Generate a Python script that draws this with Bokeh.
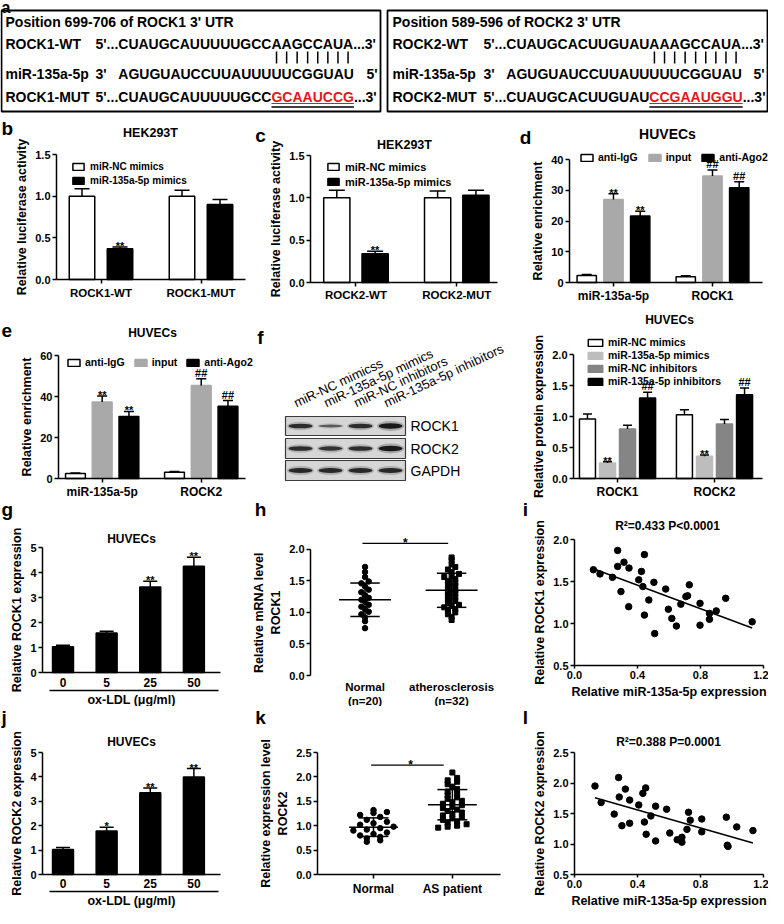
import numpy as np
from bokeh.plotting import figure
from bokeh.layouts import row, column
from bokeh.models import (Range1d, LabelSet, ColumnDataSource, Legend,
                          LegendItem, LinearAxis, FixedTicker, NumeralTickFormatter)
from bokeh.embed import file_html
from bokeh.resources import INLINE
from bokeh.core.properties import value

FONT = "Liberation Sans"
RED = "#e8141c"
GRAY_IN = "#a9a9a9"
F_LGRAY = "#bdbdbd"
F_GRAY = "#858585"

# ---------------- data ----------------
a_titles = ["Position 699-706 of ROCK1 3' UTR", "Position 589-596 of ROCK2 3' UTR"]
a_wt_names = ["ROCK1-WT", "ROCK2-WT"]
a_mut_names = ["ROCK1-MUT", "ROCK2-MUT"]
a_mir_name = "miR-135a-5p"
a_wt_seq = ["CUAUGCAUUUUUGCCAAGCCAUA", "CUAUGCACUUGUAUAAAGCCAUA"]
a_mut_keep = ["CUAUGCAUUUUUGCC", "CUAUGCACUUGUAU"]
a_mut_red = ["GCAAUCCG", "CCGAAUGGU"]
a_mir_seq = "AGUGUAUCCUUAUUUUUCGGUAU"
a_seed_len = [8, 9]

b_groups = ["ROCK1-WT", "ROCK1-MUT"]
b_series = ["miR-NC mimics", "miR-135a-5p mimics"]
b_nc = [1.00, 1.00]
b_nc_err = [0.09, 0.07]
b_mim = [0.37, 0.90]
b_mim_err = [0.02, 0.06]
b_mim_sig = ["**", ""]

c_groups = ["ROCK2-WT", "ROCK2-MUT"]
c_nc = [1.00, 1.00]
c_nc_err = [0.09, 0.08]
c_mim = [0.34, 1.03]
c_mim_err = [0.03, 0.06]
c_mim_sig = ["**", ""]

rip_series = ["anti-IgG", "input", "anti-Ago2"]
d_groups = ["miR-135a-5p", "ROCK1"]
d_igg = [2.3, 1.9]
d_igg_err = [0.3, 0.3]
d_input = [27.0, 34.6]
d_input_err = [1.9, 2.0]
d_ago2 = [21.6, 30.8]
d_ago2_err = [1.6, 2.0]
d_input_sig = ["**", "##"]
d_ago2_sig = ["**", "##"]

e_groups = ["miR-135a-5p", "ROCK2"]
e_igg = [2.4, 3.1]
e_igg_err = [0.3, 0.3]
e_input = [37.3, 45.4]
e_input_err = [2.9, 3.3]
e_ago2 = [30.2, 35.2]
e_ago2_err = [2.5, 2.8]
e_input_sig = ["**", "##"]
e_ago2_sig = ["**", "##"]

f_groups = ["ROCK1", "ROCK2"]
f_series = ["miR-NC mimics", "miR-135a-5p mimics", "miR-NC inhibitors", "miR-135a-5p inhibitors"]
f_nc_mim = [0.96, 1.03]
f_nc_mim_err = [0.08, 0.08]
f_mim = [0.25, 0.36]
f_mim_err = [0.02, 0.02]
f_nc_inh = [0.80, 0.88]
f_nc_inh_err = [0.06, 0.07]
f_inh = [1.30, 1.35]
f_inh_err = [0.09, 0.11]
f_mim_sig = ["**", "**"]
f_inh_sig = ["##", "##"]

blot_lanes = ["miR-NC mimicss", "miR-135a-5p mimics", "miR-NC inhibitors", "miR-135a-5p inhibitors"]
blot_proteins = ["ROCK1", "ROCK2", "GAPDH"]
blot_rock1 = [0.80, 0.40, 0.80, 1.00]
blot_rock2 = [0.80, 0.75, 0.80, 1.00]
blot_gapdh = [0.85, 0.85, 0.85, 0.85]

g_doses = ["0", "5", "25", "50"]
g_vals = [1.03, 1.58, 3.42, 4.25]
g_err = [0.06, 0.07, 0.23, 0.36]
g_sig = ["", "", "**", "**"]

j_vals = [1.02, 1.78, 3.35, 4.00]
j_err = [0.09, 0.16, 0.19, 0.34]
j_sig = ["", "*", "**", "**"]

h_groups = ["Normal", "atherosclerosis"]
h_normal = [1.72, 1.64, 1.56, 1.49, 1.46, 1.41, 1.36, 1.32, 1.27, 1.23,
            1.20, 1.17, 1.12, 1.09, 1.05, 1.01, 0.97, 0.92, 0.86, 0.75]
h_athero = [1.87, 1.83, 1.76, 1.72, 1.68, 1.64, 1.61, 1.58, 1.56, 1.53, 1.50,
            1.47, 1.45, 1.42, 1.38, 1.35, 1.32, 1.30, 1.27, 1.24, 1.21, 1.18,
            1.15, 1.12, 1.10, 1.08, 1.05, 1.03, 1.00, 0.97, 0.93, 0.88]
h_mean = [1.20, 1.35]
h_sd = [0.265, 0.27]

k_groups = ["Normal", "AS patient"]
k_normal = [1.32, 1.28, 1.26, 1.22, 1.18, 1.12, 1.08, 1.05, 1.02, 0.98,
            0.95, 0.92, 0.90, 0.86, 0.83, 0.80, 0.77, 0.74, 0.70, 0.67]
k_as = [2.09, 1.98, 1.93, 1.90, 1.85, 1.80, 1.75, 1.70, 1.66, 1.62, 1.58,
        1.55, 1.51, 1.48, 1.45, 1.42, 1.39, 1.36, 1.33, 1.30, 1.27, 1.24,
        1.21, 1.18, 1.15, 1.12, 1.09, 1.06, 1.03, 1.00, 0.98, 0.96]
k_mean = [0.97, 1.43]
k_sd = [0.19, 0.31]

i_x = [0.120, 0.162, 0.241, 0.274, 0.274, 0.295, 0.314, 0.346, 0.344, 0.408, 0.425,
       0.434, 0.444, 0.444, 0.472, 0.504, 0.509, 0.579, 0.596, 0.618, 0.647, 0.675,
       0.707, 0.718, 0.729, 0.797, 0.797, 0.857, 0.857, 0.900, 0.960, 1.128]
i_y = [1.64, 1.59, 1.55, 1.87, 1.68, 1.38, 1.73, 1.66, 1.20, 1.52, 1.62,
       1.44, 1.82, 1.10, 1.28, 1.49, 0.88, 1.41, 1.17, 1.06, 0.97, 1.23,
       1.32, 1.33, 1.46, 1.24, 0.98, 1.12, 1.05, 1.15, 1.30, 1.02]
i_stat = "R\u00b2=0.433 P<0.0001"

l_x = [0.130, 0.169, 0.252, 0.280, 0.284, 0.301, 0.323, 0.350, 0.350, 0.408, 0.434,
       0.444, 0.452, 0.455, 0.485, 0.515, 0.515, 0.585, 0.605, 0.652, 0.682, 0.682,
       0.714, 0.724, 0.735, 0.808, 0.808, 0.964, 1.030, 0.970, 0.975, 1.133]
l_y = [1.95, 1.68, 1.49, 2.09, 1.77, 1.30, 1.90, 1.72, 1.34, 1.64, 1.83,
       1.36, 1.92, 1.16, 1.46, 1.62, 1.05, 1.57, 1.18, 1.07, 1.11, 1.03,
       1.24, 1.52, 1.39, 1.41, 1.20, 1.44, 1.28, 0.98, 0.96, 1.22]
l_stat = "R\u00b2=0.388 P=0.0001"


# ---------------- helpers ----------------
def style_axis(ax, size="11px"):
    ax.axis_line_color = "black"
    ax.axis_line_width = 1.5
    ax.major_tick_line_color = "black"
    ax.major_tick_line_width = 1.5
    ax.major_tick_in = 0
    ax.major_tick_out = 4
    ax.minor_tick_line_color = None
    ax.major_label_text_font = FONT
    ax.major_label_text_font_style = "bold"
    ax.major_label_text_font_size = size
    ax.major_label_text_color = "black"
    ax.major_label_standoff = 2
    ax.axis_label_text_font = FONT
    ax.axis_label_text_font_style = "bold"
    ax.axis_label_text_font_size = "12.5px"
    ax.axis_label_text_color = "black"
    ax.axis_label_standoff = 3


def mkpanel(rect, box=None, xb=None, yb=None):
    """Figure whose frame is the whole rect; the plot box sits at 'box' (screen px)
    with data extents xb, yb; axes are fixed on the box edges."""
    sx0, sy0, sx1, sy1 = rect
    if box is None:
        xr, yr = (sx0, sx1), (sy1, sy0)
        X = lambda s: s
        Y = lambda s: s
        kw = dict(x_axis_location=None, y_axis_location=None)
    else:
        bx0, by0, bx1, by1 = box
        kx = (xb[1] - xb[0]) / float(bx1 - bx0)
        ky = (yb[1] - yb[0]) / float(by1 - by0)
        x0 = xb[0] - (bx0 - sx0) * kx
        x1 = xb[1] + (sx1 - bx1) * kx
        ybot = yb[0] - (sy1 - by1) * ky
        ytop = yb[1] + (by0 - sy0) * ky
        xr, yr = (x0, x1), (ybot, ytop)
        X = lambda s, x0=x0, kx=kx, sx0=sx0: x0 + (s - sx0) * kx
        Y = lambda s, ytop=ytop, ky=ky, sy0=sy0: ytop - (s - sy0) * ky
        kw = {}
    p = figure(width=sx1 - sx0, height=sy1 - sy0,
               x_range=Range1d(*xr), y_range=Range1d(*yr),
               output_backend="svg", toolbar_location=None, min_border=0, **kw)
    p.outline_line_color = None
    p.grid.visible = False
    p.background_fill_color = "white"
    p.border_fill_color = "white"
    if box is not None:
        p.xaxis.fixed_location = yb[0]
        p.xaxis.bounds = tuple(xb)
        p.yaxis.fixed_location = xb[0]
        p.yaxis.bounds = tuple(yb)
        style_axis(p.xaxis[0])
        style_axis(p.yaxis[0])
    return p, X, Y


def yaxis_setup(p, ticks, fmt, label, bounds=None):
    ax = p.yaxis[0]
    ax.ticker = FixedTicker(ticks=ticks)
    ax.formatter = NumeralTickFormatter(format=fmt)
    ax.axis_label = label
    if bounds is not None:
        ax.bounds = bounds


def xnum_setup(p, ticks, fmt, label):
    ax = p.xaxis[0]
    ax.ticker = FixedTicker(ticks=ticks)
    ax.formatter = NumeralTickFormatter(format=fmt)
    ax.axis_label = label
    ax.major_tick_out = 3
    ax.major_label_standoff = 2
    ax.axis_label_standoff = 3


def xcat_setup(p, ticks, labels, size="12px", ticks_on=True, line=True, standoff=3):
    ax = p.xaxis[0]
    ax.ticker = FixedTicker(ticks=ticks)
    ax.major_label_overrides = {t: l for t, l in zip(ticks, labels)}
    ax.major_label_text_font_size = size
    ax.major_label_standoff = standoff
    if not ticks_on:
        ax.major_tick_out = 0
    if not line:
        ax.axis_line_color = None
        ax.major_tick_line_color = None
    return ax


def bars(p, base, off, w, vals, errs, fill, cap, sig=None, sig_size="11px", line="black"):
    x = np.asarray(base, float) + off
    v = np.asarray(vals, float)
    r = p.vbar(x=x, top=v, width=w, bottom=0, fill_color=fill,
               line_color=line, line_width=1.5)
    top = v + np.asarray(errs, float)
    p.segment(x0=x, y0=v, x1=x, y1=top, line_color="black", line_width=1.5)
    p.scatter(x=x, y=top, marker="dash", size=cap, line_color="black", line_width=1.5)
    if sig:
        yo = [(-3 if "*" in s else 2) for s in sig]
        src = ColumnDataSource(dict(x=list(x), y=list(top), t=list(sig), yo=yo))
        p.add_layout(LabelSet(x="x", y="y", text="t", y_offset="yo", source=src,
                              text_align="center", text_baseline="alphabetic",
                              text_font=value(FONT), text_font_size=sig_size,
                              text_font_style="bold", text_color="black"))
    return r


def add_legend(p, rect, items, left, top, size, orient="vertical", gw=14, gh=9, lh=14,
               spacing=0, standoff=5):
    # left/top: screen position of the legend's top-left corner
    sx0, sy0, sx1, sy1 = rect
    nrow = len(items) if orient == "vertical" else 1
    height = nrow * lh + (nrow - 1) * spacing
    vx = left - sx0 + 6
    vy = sy1 - (top + height) - 7
    lg = Legend(items=[LegendItem(label=value(t), renderers=[r]) for t, r in items],
                location=(int(round(vx)), int(round(vy))), orientation=orient,
                padding=0, margin=0, spacing=int(spacing), label_standoff=int(standoff),
                glyph_width=int(gw), glyph_height=int(gh), label_height=int(lh),
                label_text_font=FONT, label_text_font_style="bold",
                label_text_font_size=size, label_text_color="black",
                border_line_color=None, background_fill_alpha=0)
    p.add_layout(lg)


def txt(p, x, y, t, size, style="bold", align="center", baseline="middle",
        color="black", angle=0.0, font=FONT):
    p.text(x=[x], y=[y], text=[t], text_font=value(font), text_font_size=size,
           text_font_style=style, text_align=align, text_baseline=baseline,
           text_color=color, angle=angle)


def swarm(vals, center, binw, step):
    v = np.asarray(vals, float)
    xs = np.zeros_like(v)
    bins = np.floor(v / binw)
    for b in np.unique(bins):
        idx = np.where(bins == b)[0]
        idx = idx[np.argsort(v[idx])]
        m = len(idx)
        xs[idx] = center + (np.arange(m) - (m - 1) / 2.0) * step
    return xs


# Arial/Liberation advance widths (1/1000 em), bold and regular, for the
# characters of the panel-a and blot labels: letters are placed one by one.
W_BOLD = {' ': 278, "'": 238, '-': 333, '.': 278, 'A': 722, 'C': 722, 'G': 778,
          'K': 722, 'M': 833, 'O': 778, 'P': 667, 'R': 722, 'T': 611, 'U': 722,
          'W': 944, 'a': 556, 'f': 333, 'i': 278, 'm': 889, 'n': 611, 'o': 611,
          'p': 611, 's': 556, 't': 333}
W_REG = {'A': 667, 'C': 722, 'D': 722, 'G': 778, 'H': 722, 'K': 667, 'O': 778,
         'P': 667, 'R': 722}
for _d in "0123456789":
    W_BOLD[_d] = 556
    W_REG[_d] = 556


def tw(s, size=14, table=W_BOLD):
    return sum(table[c] for c in s) * size / 1000.0


def ptext(p, x, y, s, size=14, color="black", align="left", bold=True):
    table = W_BOLD if bold else W_REG
    if align == "right":
        x = x - tw(s, size, table)
    xs = [x + tw(s[:k], size, table) + table[s[k]] * size / 2000.0 for k in range(len(s))]
    p.text(x=xs, y=[y] * len(s), text=list(s), text_font=value(FONT),
           text_font_style="bold" if bold else "normal", text_font_size="%gpx" % size,
           text_color=color, text_align="center", text_baseline="middle")
    return xs


# ---------------- panel a ----------------
pa, _, _ = mkpanel((8, 8, 776, 122))
txt(pa, 9, 15, "a", "16px", align="left", baseline="alphabetic")
box_x = [(9, 388), (395, 775)]
lab_x = [13, 400]
seq_x = [103, 491]
Y_HEAD, Y_WT, Y_MIR, Y_MUT = 29, 51.5, 81.5, 104.5
for i in range(2):
    bx0, bx1 = box_x[i]
    pa.quad(left=bx0, right=bx1, top=18, bottom=119, fill_color=None,
            line_color="black", line_width=1.8)
    ptext(pa, lab_x[i], Y_HEAD, a_titles[i])
    ptext(pa, lab_x[i], Y_WT, a_wt_names[i])
    ptext(pa, lab_x[i], Y_MIR, a_mir_name)
    ptext(pa, lab_x[i], Y_MUT, a_mut_names[i])
    sx = seq_x[i]
    s0 = sx + tw("5'...")
    wt = a_wt_seq[i]
    ptext(pa, sx, Y_WT, "5'...")
    wxs = ptext(pa, s0, Y_WT, wt)
    ptext(pa, s0 + tw(wt), Y_WT, "...3'")
    ptext(pa, sx, Y_MIR, "3'")
    ptext(pa, s0, Y_MIR, a_mir_seq)
    ptext(pa, bx1 - 3, Y_MIR, "5'", align="right")
    keep = a_mut_keep[i]
    red = a_mut_red[i]
    ptext(pa, sx, Y_MUT, "5'...")
    ptext(pa, s0, Y_MUT, keep)
    rx = s0 + tw(keep)
    ptext(pa, rx, Y_MUT, red, color=RED)
    ptext(pa, rx + tw(red), Y_MUT, "...3'")
    pa.segment(x0=[rx], y0=[Y_MUT + 6.5], x1=[rx + tw(red)], y1=[Y_MUT + 6.5],
               line_color=RED, line_width=1.2)
    pa.segment(x0=[rx], y0=[Y_MUT + 10], x1=[rx + tw(red)], y1=[Y_MUT + 10],
               line_color="black", line_width=1.5)
    n = a_seed_len[i]
    cx = wxs[len(wt) - n:]
    pa.segment(x0=cx, y0=[59] * n, x1=cx, y1=[71] * n, line_color="black", line_width=1.5)

# ---------------- row B ----------------
cats2 = [1, 2]

RB = (8, 122, 262, 312)
pb, X, Y = mkpanel(RB, (64, 162, 253, 287), (0.555, 2.445), (0, 1.5))
yaxis_setup(pb, [0, 0.5, 1.0, 1.5], "0.0", "Relative luciferase activity")
xcat_setup(pb, cats2, b_groups, "11.5px", standoff=3)
rb1 = bars(pb, cats2, -0.19, 0.255, b_nc, b_nc_err, "white", 15)
rb2 = bars(pb, cats2, 0.19, 0.255, b_mim, b_mim_err, "black", 15, b_mim_sig)
add_legend(pb, RB, [(b_series[0], rb1), (b_series[1], rb2)], 73, 160, "10px", lh=14)
txt(pb, X(158), Y(140), "HEK293T", "12.5px")
txt(pb, X(9), Y(136), "b", "19px", align="left")

RC = (262, 122, 520, 312)
pc, X, Y = mkpanel(RC, (318, 163, 505, 290), (0.549, 2.404), (0, 1.5))
yaxis_setup(pc, [0, 0.5, 1.0, 1.5], "0.0", "Relative luciferase activity")
xcat_setup(pc, cats2, c_groups, "11.5px", standoff=2)
rc1 = bars(pc, cats2, -0.19, 0.26, c_nc, c_nc_err, "white", 16)
rc2 = bars(pc, cats2, 0.19, 0.26, c_mim, c_mim_err, "black", 16, c_mim_sig)
add_legend(pc, RC, [(b_series[0], rc1), (b_series[1], rc2)], 328, 160, "11px", lh=15)
txt(pc, X(412), Y(152), "HEK293T", "12.5px")
txt(pc, X(268), Y(143), "c", "19px")

RD = (520, 122, 776, 312)
pd, X, Y = mkpanel(RD, (577, 167, 770, 290), (0.556, 2.505), (0, 40))
yaxis_setup(pd, [0, 10, 20, 30, 40], "0", "Relative enrichment")
xcat_setup(pd, cats2, d_groups, "12px", standoff=2)
rd1 = bars(pd, cats2, -0.27, 0.195, d_igg, d_igg_err, "white", 10)
rd2 = bars(pd, cats2, 0.0, 0.195, d_input, d_input_err, GRAY_IN, 10, d_input_sig, line=GRAY_IN)
rd3 = bars(pd, cats2, 0.27, 0.195, d_ago2, d_ago2_err, "black", 10, d_ago2_sig)
add_legend(pd, RD, [(rip_series[0], rd1), (rip_series[1], rd2), (rip_series[2], rd3)],
           581, 152, "10.5px", orient="horizontal", gw=15, lh=12, spacing=9, standoff=4)
txt(pd, X(675), Y(141), "HUVECs", "14px")
txt(pd, X(533), Y(145), "d", "19px")

# ---------------- row C ----------------
RE = (8, 312, 262, 506)
pe, X, Y = mkpanel(RE, (66, 363, 253, 486), (0.559, 2.447), (0, 60))
yaxis_setup(pe, [0, 20, 40, 60], "0", "Relative enrichment")
xcat_setup(pe, cats2, e_groups, "12px", standoff=2)
re1 = bars(pe, cats2, -0.27, 0.2, e_igg, e_igg_err, "white", 10)
re2 = bars(pe, cats2, 0.0, 0.2, e_input, e_input_err, GRAY_IN, 10, e_input_sig, line=GRAY_IN)
re3 = bars(pe, cats2, 0.27, 0.2, e_ago2, e_ago2_err, "black", 10, e_ago2_sig)
add_legend(pe, RE, [(rip_series[0], re1), (rip_series[1], re2), (rip_series[2], re3)],
           68, 357, "10.5px", orient="horizontal", gw=15, lh=12, spacing=8, standoff=4)
txt(pe, X(160), Y(340), "HUVECs", "12px")
txt(pe, X(9), Y(338), "e", "19px", align="left")

# blot (panel f, left)
pf, X, Y = mkpanel((262, 312, 528, 506))
BX0, BX1 = 293, 413
row_y = [(424, 443), (446, 466), (468, 488)]
lane_w = (BX1 - BX0) / 4.0
lane_cx = BX0 + lane_w * (np.arange(4) + 0.5)
for r, (y0, y1) in enumerate(row_y):
    ints = [blot_rock1, blot_rock2, blot_gapdh][r]
    pf.quad(left=BX0, right=BX1, top=y0, bottom=y1, fill_color="#d6d6d6",
            line_color="#3a3a3a", line_width=1.2)
    cy = (y0 + y1) / 2.0
    pf.ellipse(x=lane_cx, y=[cy] * 4, width=lane_w * 0.9,
               height=[3 + 7 * v for v in ints], fill_color="#202020",
               fill_alpha=[0.25 * v for v in ints], line_color=None)
    pf.ellipse(x=lane_cx, y=[cy] * 4, width=lane_w * 0.8,
               height=[1.5 + 4 * v for v in ints], fill_color="#111111",
               fill_alpha=[0.35 + 0.6 * v for v in ints], line_color=None)
    ptext(pf, BX1 + 5, cy, blot_proteins[r], size=14, bold=False)
pf.text(x=list(lane_cx - 6), y=[411] * 4, text=blot_lanes, angle=0.44,
        text_font=value(FONT), text_font_size="13px", text_align="left",
        text_baseline="alphabetic", text_color="black")
txt(pf, 268, 345, "f", "19px")

RF = (528, 312, 776, 506)
pfb, X, Y = mkpanel(RF, (581, 362, 770, 486), (0.546, 2.495), (0, 2.0))
yaxis_setup(pfb, [0, 0.5, 1.0, 1.5, 2.0], "0.0", "Relative protein expression")
xcat_setup(pfb, cats2, f_groups, "12px", standoff=2)
rf1 = bars(pfb, cats2, -0.31, 0.165, f_nc_mim, f_nc_mim_err, "white", 9)
rf2 = bars(pfb, cats2, -0.103, 0.165, f_mim, f_mim_err, F_LGRAY, 9, f_mim_sig, line=F_LGRAY)
rf3 = bars(pfb, cats2, 0.103, 0.165, f_nc_inh, f_nc_inh_err, F_GRAY, 9, line=F_GRAY)
rf4 = bars(pfb, cats2, 0.31, 0.165, f_inh, f_inh_err, "black", 9, f_inh_sig)
add_legend(pfb, RF, [(f_series[0], rf1), (f_series[1], rf2), (f_series[2], rf3), (f_series[3], rf4)],
           588, 337, "10.5px", gw=18, gh=9, lh=12, spacing=1, standoff=4)
txt(pfb, X(677), Y(327), "HUVECs", "12px")

# ---------------- row D ----------------
cats4 = [0, 1, 2, 3]
pg, X, Y = mkpanel((8, 506, 258, 714), (50, 555, 228, 680), (-0.47, 3.61), (0, 5))
yaxis_setup(pg, [0, 1, 2, 3, 4, 5], "0", "Relative ROCK1 expression")
xcat_setup(pg, cats4, g_doses, "12px", ticks_on=False, standoff=5)
bars(pg, cats4, 0.0, 0.48, g_vals, g_err, "black", 14, g_sig)
ug = LinearAxis(ticker=FixedTicker(ticks=[]), fixed_location=Y(698), bounds=(X(57), X(226)),
                axis_line_width=1.5, major_tick_out=0, major_tick_in=0,
                minor_tick_line_color=None)
pg.add_layout(ug, "below")
txt(pg, X(139), Y(707), "ox-LDL (\u03bcg/ml)", "12.5px")
txt(pg, X(139), Y(546), "HUVECs", "12px")
txt(pg, X(9), Y(517), "g", "19px", align="left")

ph, X, Y = mkpanel((258, 506, 520, 714), (318, 541, 505, 683), (0.37, 2.53), (0, 2.25))
yaxis_setup(ph, [0, 0.5, 1.0, 1.5, 2.0], "0.0", "Relative mRNA level\nROCK1", bounds=(0, 2.0))
xcat_setup(ph, cats2, ["%s\n(n=%d)" % (h_groups[0], len(h_normal)),
                       "%s\n(n=%d)" % (h_groups[1], len(h_athero))],
           "11.5px", ticks_on=False, line=False, standoff=5)
ph.scatter(swarm(h_normal, 1, 0.06, 0.085), h_normal, marker="circle", size=5.5, color="black")
ph.scatter(swarm(h_athero, 2, 0.06, 0.085), h_athero, marker="square", size=5, color="black")
hc = np.array([1.0, 2.0]); hm = np.array(h_mean); hs = np.array(h_sd)
ph.segment(x0=hc - 0.3, y0=hm, x1=hc + 0.3, y1=hm, line_color="black", line_width=1.5)
ph.segment(x0=hc - 0.17, y0=hm + hs, x1=hc + 0.17, y1=hm + hs, line_color="black", line_width=1.5)
ph.segment(x0=hc - 0.17, y0=hm - hs, x1=hc + 0.17, y1=hm - hs, line_color="black", line_width=1.5)
ph.segment(x0=hc, y0=hm - hs, x1=hc, y1=hm + hs, line_color="black", line_width=1.5)
ph.segment(x0=[0.97], y0=[2.095], x1=[1.96], y1=[2.095], line_color="black", line_width=1.3)
txt(ph, 1.465, 2.095, "*", "12px", baseline="alphabetic")
txt(ph, X(268), Y(517), "h", "19px")

pi_, X, Y = mkpanel((520, 506, 776, 714), (582, 547, 771, 673), (0, 1.2), (0.5, 2.0))
yaxis_setup(pi_, [0.5, 1.0, 1.5, 2.0], "0.0", "Relative ROCK1 expression")
xnum_setup(pi_, [0, 0.4, 0.8, 1.2], "0.0", "Relative miR-135a-5p expression")
pi_.scatter(i_x, i_y, marker="circle", size=6.5, color="black")
s_i, c_i = np.polyfit(i_x, i_y, 1)
xx = np.array([min(i_x), max(i_x)])
pi_.line(xx, s_i * xx + c_i, line_color="black", line_width=1.5)
txt(pi_, X(675), Y(533), i_stat, "12px")
txt(pi_, X(533), Y(517), "i", "19px")

# ---------------- row E ----------------
pj, X, Y = mkpanel((8, 714, 258, 916), (50, 760, 228, 882), (-0.47, 3.61), (0, 5))
yaxis_setup(pj, [0, 1, 2, 3, 4, 5], "0", "Relative ROCK2 expression")
xcat_setup(pj, cats4, g_doses, "12px", ticks_on=False, standoff=4)
bars(pj, cats4, 0.0, 0.48, j_vals, j_err, "black", 14, j_sig)
uj = LinearAxis(ticker=FixedTicker(ticks=[]), fixed_location=Y(899), bounds=(X(57), X(226)),
                axis_line_width=1.5, major_tick_out=0, major_tick_in=0,
                minor_tick_line_color=None)
pj.add_layout(uj, "below")
txt(pj, X(139), Y(908), "ox-LDL (\u03bcg/ml)", "12.5px")
txt(pj, X(139), Y(749), "HUVECs", "12px")
txt(pj, X(9), Y(725), "j", "19px", align="left")

pk, X, Y = mkpanel((258, 714, 520, 916), (325, 760, 508, 882), (0.29, 2.61), (0, 2.5))
yaxis_setup(pk, [0, 0.5, 1.0, 1.5, 2.0, 2.5], "0.0", "Relative expression level\nROCK2")
xcat_setup(pk, cats2, k_groups, "12px", standoff=3)
pk.scatter(swarm(k_normal, 1, 0.1, 0.17), k_normal, marker="circle", size=5.5, color="black")
pk.scatter(swarm(k_as, 2, 0.08, 0.12), k_as, marker="square", size=5, color="black")
kc = np.array([1.0, 2.0]); km = np.array(k_mean); ks = np.array(k_sd)
pk.segment(x0=kc - 0.31, y0=km, x1=kc + 0.31, y1=km, line_color="black", line_width=1.5)
pk.segment(x0=kc - 0.19, y0=km + ks, x1=kc + 0.19, y1=km + ks, line_color="black", line_width=1.5)
pk.segment(x0=kc - 0.19, y0=km - ks, x1=kc + 0.19, y1=km - ks, line_color="black", line_width=1.5)
pk.segment(x0=kc, y0=km - ks, x1=kc, y1=km + ks, line_color="black", line_width=1.5)
pk.segment(x0=[0.97], y0=[2.24], x1=[1.89], y1=[2.24], line_color="black", line_width=1.3)
txt(pk, 1.47, 2.24, "*", "12px", baseline="alphabetic")
txt(pk, X(268), Y(725), "k", "19px")

pl, X, Y = mkpanel((520, 714, 776, 916), (582, 760, 771, 882), (0, 1.2), (0.5, 2.5))
yaxis_setup(pl, [0.5, 1.0, 1.5, 2.0, 2.5], "0.0", "Relative ROCK2 expression")
xnum_setup(pl, [0, 0.4, 0.8, 1.2], "0.0", "Relative miR-135a-5p expression")
pl.scatter(l_x, l_y, marker="circle", size=6.5, color="black")
s_l, c_l = np.polyfit(l_x, l_y, 1)
xl = np.array([min(l_x), max(l_x)])
pl.line(xl, s_l * xl + c_l, line_color="black", line_width=1.5)
txt(pl, X(676), Y(749), l_stat, "12px")
txt(pl, X(533), Y(725), "l", "19px")

layout = column(pa, row(pb, pc, pd), row(pe, pf, pfb), row(pg, ph, pi_), row(pj, pk, pl))
open("out.html", "w").write(file_html(layout, INLINE, title="Figure"))
